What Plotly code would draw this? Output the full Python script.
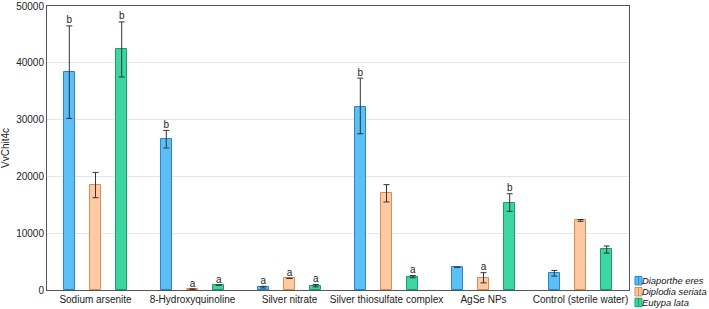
import plotly.graph_objects as go

categories = ["Sodium arsenite", "8-Hydroxyquinoline", "Silver nitrate",
              "Silver thiosulfate complex", "AgSe NPs", "Control (sterile water)"]
series_names = ["Diaporthe eres", "Diplodia seriata", "Eutypa lata"]

diaporthe = [38300, 26500, 500, 32300, 4000, 2950]
diaporthe_err_plus = [8200, 1600, 150, 5000, 0, 500]
diaporthe_err_minus = [8100, 1500, 150, 4800, 0, 500]
diaporthe_letters = ["b", "b", "a", "b", "", ""]

diplodia = [18500, 150, 2050, 17000, 2150, 12250]
diplodia_err_plus = [2200, 0, 0, 1550, 900, 150]
diplodia_err_minus = [2250, 0, 0, 1500, 900, 150]
diplodia_letters = ["", "a", "a", "", "a", ""]

eutypa = [42400, 850, 750, 2350, 15400, 7150]
eutypa_err_plus = [4800, 0, 200, 200, 1550, 600]
eutypa_err_minus = [4900, 0, 200, 200, 1550, 650]
eutypa_letters = ["b", "a", "a", "a", "b", ""]

fills = ["#5cbff6", "#fdcaa3", "#3cd7a1"]
edges = ["#2a84c8", "#e08a50", "#1f9a6c"]
offsets = [-0.27, 0.0, 0.27]
bar_width = 0.113

FONT = "Liberation Sans, Arial"

data = [
    (diaporthe, diaporthe_err_plus, diaporthe_err_minus, diaporthe_letters),
    (diplodia, diplodia_err_plus, diplodia_err_minus, diplodia_letters),
    (eutypa, eutypa_err_plus, eutypa_err_minus, eutypa_letters),
]

fig = go.Figure()
idx = list(range(len(categories)))
for k, (vals, ep, em, letters) in enumerate(data):
    xs = [i + offsets[k] for i in idx]
    fig.add_trace(go.Bar(
        x=xs, y=vals, width=bar_width, name=series_names[k],
        marker=dict(color=fills[k], line=dict(color=edges[k], width=1)),
        error_y=dict(type="data", array=ep, arrayminus=em, symmetric=False,
                     color="#333333", thickness=1, width=3, visible=True),
        showlegend=False,
    ))
    tx = [x for x, l in zip(xs, letters) if l]
    ty = [v + e for v, e, l in zip(vals, ep, letters) if l]
    tt = [l for l in letters if l]
    fig.add_trace(go.Scatter(
        x=tx, y=ty, text=tt, mode="text", textposition="top center",
        textfont=dict(size=10, color="#222222", family=FONT),
        showlegend=False, hoverinfo="skip", cliponaxis=False,
    ))

# compact legend drawn in paper coordinates
legend_y = [0.033, -0.006, -0.044]
sq_x0, sq_x1 = 1.0103, 1.0223
for k, name in enumerate(series_names):
    yc = legend_y[k]
    fig.add_shape(type="rect", xref="paper", yref="paper",
                  x0=sq_x0, x1=sq_x1, y0=yc - 0.015, y1=yc + 0.015,
                  fillcolor=fills[k], line=dict(color=edges[k], width=1))
    fig.add_shape(type="line", xref="paper", yref="paper",
                  x0=(sq_x0 + sq_x1) / 2, x1=(sq_x0 + sq_x1) / 2,
                  y0=yc - 0.015, y1=yc + 0.015,
                  line=dict(color=edges[k], width=1))
    fig.add_annotation(xref="paper", yref="paper", x=sq_x1, y=yc,
                       xanchor="left", yanchor="middle", showarrow=False,
                       borderpad=0, xshift=-1,
                       text="<i>" + name + "</i>",
                       font=dict(size=9.4, color="#111111", family=FONT))

fig.update_layout(
    width=709, height=309,
    margin=dict(l=47, r=80, t=6, b=19, autoexpand=False),
    paper_bgcolor="white", plot_bgcolor="white",
    font=dict(family=FONT, size=10, color="#222222"),
    showlegend=False,
    bargap=0,
)
fig.update_xaxes(
    tickvals=idx, ticktext=categories, range=[-0.5, 5.5], tickangle=0,
    showline=True, linecolor="#555555", linewidth=1, mirror=True,
    showgrid=False, ticks="", zeroline=False, automargin=False,
    tickfont=dict(size=10),
)
fig.update_yaxes(
    range=[0, 50000], tickvals=[0, 10000, 20000, 30000, 40000, 50000],
    showline=True, linecolor="#555555", linewidth=1, mirror=True,
    showgrid=True, gridcolor="#e6e6e6", gridwidth=1, ticks="", zeroline=False,
    tickfont=dict(size=10), tickformat="d", automargin=False,
    title=dict(text="VvChit4c", font=dict(size=10), standoff=4),
)

fig.write_html("out.html")
